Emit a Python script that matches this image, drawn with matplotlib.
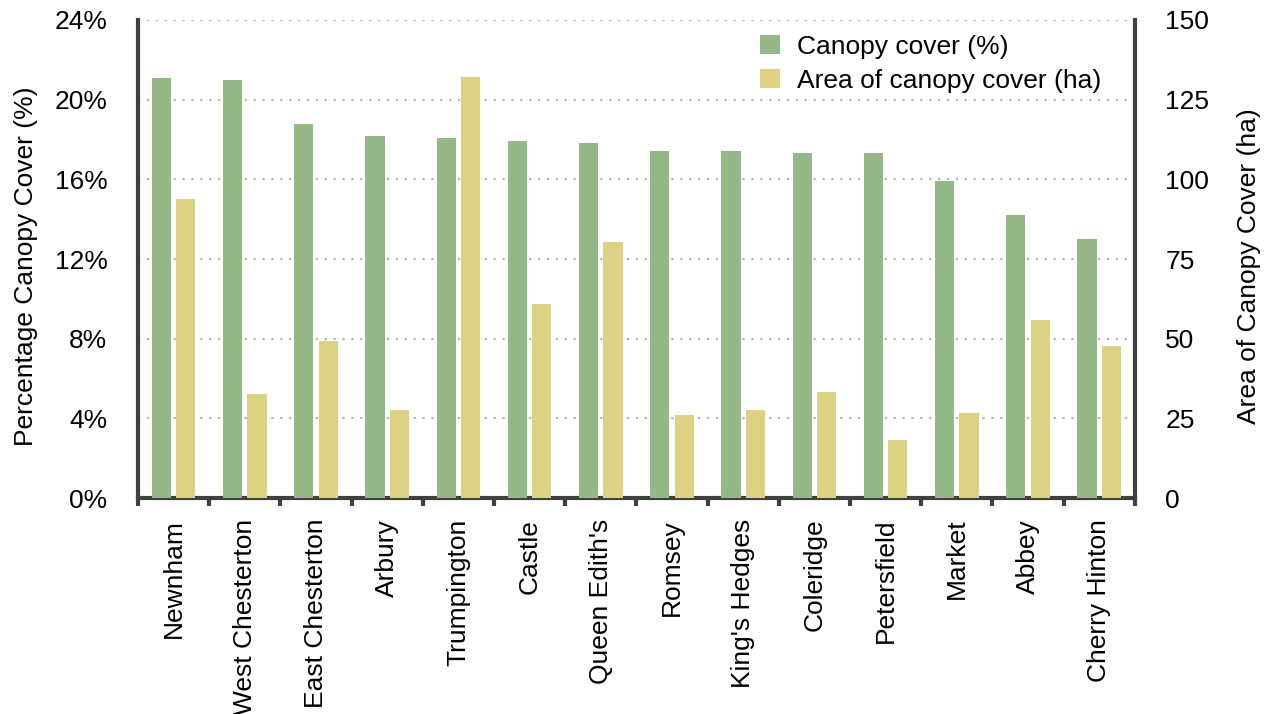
import numpy as np
import matplotlib.pyplot as plt
from matplotlib.ticker import FuncFormatter

plt.rcParams['font.family'] = ['Liberation Sans', 'DejaVu Sans']

wards = ["Newnham", "West Chesterton", "East Chesterton", "Arbury", "Trumpington",
         "Castle", "Queen Edith's", "Romsey", "King's Hedges", "Coleridge",
         "Petersfield", "Market", "Abbey", "Cherry Hinton"]
canopy_pct = [21.1, 21.0, 18.8, 18.2, 18.1, 17.9, 17.8, 17.4, 17.4, 17.3, 17.3, 15.9, 14.2, 13.0]
canopy_ha = [93.8, 32.5, 49.3, 27.6, 132.2, 60.9, 80.2, 25.9, 27.6, 33.4, 18.3, 26.8, 56.0, 47.8]

green = '#95b887'
yellow = '#ddd283'
spine_col = '#404040'
fs = 19

fig, ax = plt.subplots(figsize=(12.68, 7.14), dpi=100)
fig.subplots_adjust(left=0.1088, right=0.895, top=0.972, bottom=0.3025)
ax2 = ax.twinx()

x = np.arange(len(wards))
w = 0.27
off = 0.172
ax.bar(x - off, canopy_pct, w, color=green, zorder=3, label='Canopy cover (%)')
ax2.bar(x + off, canopy_ha, w, color=yellow, zorder=3, label='Area of canopy cover (ha)')

ax.set_xlim(-0.5, len(wards) - 0.5)
ax.set_ylim(0, 24)
ax2.set_ylim(0, 150)
ax.set_yticks(np.arange(0, 25, 4))
ax2.set_yticks(np.arange(0, 151, 25))
ax.yaxis.set_major_formatter(FuncFormatter(lambda v, p: f'{v:.0f}%'))

ax.grid(axis='y', linestyle=(0, (1, 3)), color='#b5b5b5', linewidth=1.6, zorder=0)
ax.set_axisbelow(True)

ax.set_xticks(x)
ax.set_xticklabels(wards, rotation=90, fontsize=fs)
ax.set_xticks(np.arange(-0.5, len(wards)), minor=True)
ax.tick_params(axis='x', which='major', length=0, pad=15)
ax.tick_params(axis='x', which='minor', length=6, width=3, color=spine_col)
ax.tick_params(axis='y', length=0, pad=22, labelsize=fs)
ax2.tick_params(axis='y', length=0, pad=22, labelsize=fs)

ax.set_ylabel('Percentage Canopy Cover (%)', fontsize=fs)
ax2.set_ylabel('Area of Canopy Cover (ha)', fontsize=fs)
ax.yaxis.set_label_coords(-0.100, 0.485)
ax2.yaxis.set_label_coords(1.102, 0.485)

for a in (ax, ax2):
    a.spines['top'].set_visible(False)
    for s in a.spines.values():
        s.set_linewidth(3)
        s.set_color(spine_col)
ax2.spines['left'].set_visible(False)
ax2.spines['bottom'].set_visible(False)
ax.spines['right'].set_visible(False)

h1, l1 = ax.get_legend_handles_labels()
h2, l2 = ax2.get_legend_handles_labels()
ax2.legend(h1 + h2, l1 + l2, loc='upper right', bbox_to_anchor=(0.99, 1.019),
           frameon=False, fontsize=fs, handlelength=0.75, handleheight=0.75,
           handletextpad=0.65, labelspacing=0.38)

fig.savefig('out.png', dpi=100)
